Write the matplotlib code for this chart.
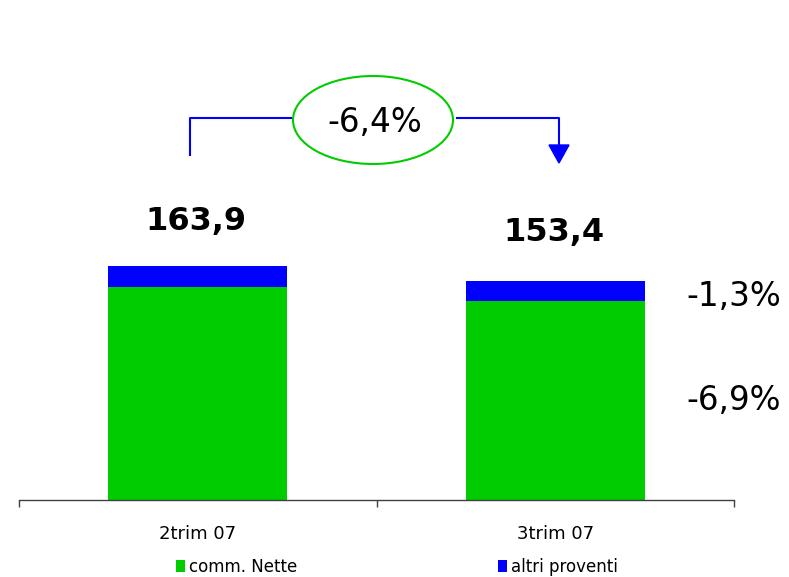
import matplotlib
matplotlib.use("Agg")
import matplotlib.pyplot as plt
from matplotlib.patches import Patch, Ellipse, Polygon
import numpy as np

categories = ["2trim 07", "3trim 07"]
comm_nette = [149.3, 139.0]
altri_proventi = [14.6, 14.4]
totals_labels = ["163,9", "153,4"]
total_change = "-6,4%"
altri_change = "-1,3%"
comm_change = "-6,9%"
series_names = ["comm. Nette", "altri proventi"]

GREEN = "#00CC00"
BLUE = "#0000FF"

W, H = 789, 577
fig = plt.figure(figsize=(W / 100, H / 100), dpi=100)
ax = fig.add_axes([19 / W, (H - 500) / H, 715 / W, 500 / H])

x = np.arange(len(categories))
ax.bar(x, comm_nette, width=0.5, color=GREEN, label=series_names[0])
ax.bar(x, altri_proventi, width=0.5, bottom=comm_nette, color=BLUE, label=series_names[1])
ax.set_xlim(-0.5, 1.5)
ax.set_ylim(0, 350)

for s in ["top", "right", "left"]:
    ax.spines[s].set_visible(False)
ax.spines["bottom"].set_color("#404040")
ax.spines["bottom"].set_linewidth(1.0)
ax.set_yticks([])
ax.set_xticks([-0.5, 0.5, 1.5])
ax.set_xticklabels([])
ax.tick_params(axis="x", direction="out", length=5, width=1, color="#404040")
ax.set_xticks(x, minor=True)
ax.set_xticklabels(categories, minor=True, fontsize=13)
ax.tick_params(axis="x", which="minor", length=0, pad=18)

totals = [c + a for c, a in zip(comm_nette, altri_proventi)]
offsets = [44, 48]
for xi, t, lab, off in zip(x, totals, totals_labels, offsets):
    ax.annotate(lab, (xi, t), xytext=(-1, off * 0.72), textcoords="offset points",
                ha="center", va="center", fontsize=23, fontweight="bold")

# overlay for decorations in pixel coordinates
ov = fig.add_axes([0, 0, 1, 1])
ov.set_xlim(0, W)
ov.set_ylim(H, 0)
ov.axis("off")
ov.patch.set_alpha(0)

ov.plot([190, 190, 291], [155, 118, 118], color=BLUE, lw=1.5)
ov.plot([457, 559, 559], [118, 118, 146], color=BLUE, lw=1.5)
ov.add_patch(Polygon([[549, 145], [569, 145], [559, 163]], closed=True, color=BLUE))
ov.add_patch(Ellipse((373, 120), 160, 88, fill=False, edgecolor=GREEN, lw=1.5))
ov.text(375, 122, total_change, ha="center", va="center", fontsize=23.5)
ov.text(734, 296, altri_change, ha="center", va="center", fontsize=23.5)
ov.text(734, 400, comm_change, ha="center", va="center", fontsize=23.5)

handles = [Patch(facecolor=GREEN, edgecolor="none"), Patch(facecolor=BLUE, edgecolor="none")]
fig.legend(handles, series_names, loc="center", bbox_to_anchor=(397 / W, 1 - 567 / H),
           ncol=2, frameon=False, fontsize=12, handlelength=0.54, handleheight=0.75,
           handletextpad=0.25, columnspacing=12.0, borderpad=0)

fig.savefig("out.png", dpi=100)
